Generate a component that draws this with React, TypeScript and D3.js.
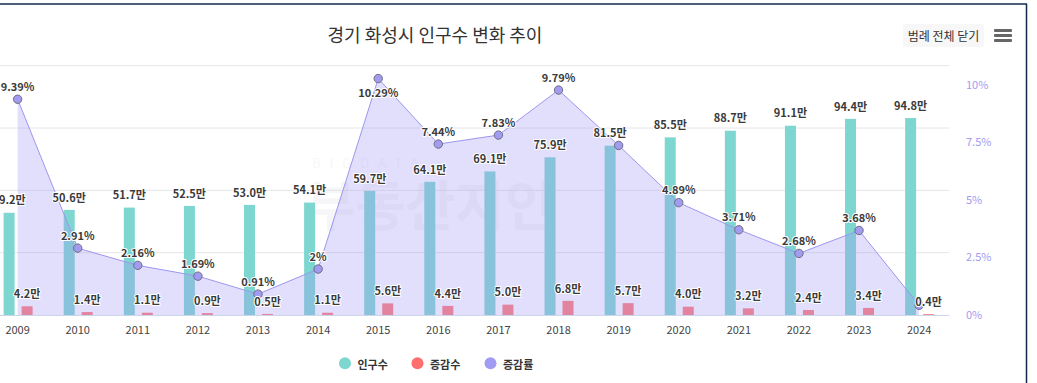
import React from "react";
import * as d3 from "d3";

const years = ["2009","2010","2011","2012","2013","2014","2015","2016","2017","2018","2019","2020","2021","2022","2023","2024"];
const population = [49.2, 50.6, 51.7, 52.5, 53.0, 54.1, 59.7, 64.1, 69.1, 75.9, 81.5, 85.5, 88.7, 91.1, 94.4, 94.8];
const change = [4.2, 1.4, 1.1, 0.9, 0.5, 1.1, 5.6, 4.4, 5.0, 6.8, 5.7, 4.0, 3.2, 2.4, 3.4, 0.4];
const rate = [9.39, 2.91, 2.16, 1.69, 0.91, 2, 10.29, 7.44, 7.83, 9.79, 7.38, 4.89, 3.71, 2.68, 3.68, 0.42];
const rateTicks = [0, 2.5, 5, 7.5, 10];
const popGridTicks = [0, 30, 60, 90, 120];
const seriesNames = ["인구수", "증감수", "증감률"];
const title = "경기 화성시 인구수 변화 추이";
const buttonLabel = "범례 전체 닫기";

const COLORS = { pop: "#7dd6cf", change: "#ff6f6e", rate: "#a29bf2" };
const FONT = "'Noto Sans CJK KR', 'Noto Sans', sans-serif";

function textWidth(s: string): number {
  let w = 0;
  for (const ch of s) {
    if (ch === ".") w += 3;
    else if (ch === "%") w += 9;
    else if (/[0-9]/.test(ch)) w += 6;
    else w += 11;
  }
  return w;
}

type Box = { x0: number; x1: number; y0: number; y1: number };
const overlaps = (a: Box, b: Box) => a.x0 < b.x1 && b.x0 < a.x1 && a.y0 < b.y1 && b.y0 < a.y1;

export default function App() {
  const W = 1037, H = 383;
  const plotTop = 65.7, plotBottom = 315, plotLeft = -12.45, plotRight = 949.2;
  const x = d3.scaleBand<string>().domain(years).range([plotLeft, plotRight]).padding(0);
  const cx = (y: string) => (x(y) as number) + x.bandwidth() / 2;
  const yPop = d3.scaleLinear().domain([0, 120]).range([plotBottom, plotTop]);
  const yRate = d3.scaleLinear().domain([0, 10.85]).range([plotBottom, plotTop]);

  const barW = 11;
  const popX = (y: string) => cx(y) - 14;
  const chgX = (y: string) => cx(y) + 4;

  const area = d3.area<number>()
    .x((_, i) => cx(years[i]))
    .y0(plotBottom)
    .y1((d) => yRate(d));
  const line = d3.line<number>()
    .x((_, i) => cx(years[i]))
    .y((d) => yRate(d));

  const labelOff = 13.3;
  type Lab = { x: number; y: number; text: string };
  const colLabels: Lab[] = [];
  years.forEach((yr, i) => {
    colLabels.push({ x: popX(yr) + barW / 2, y: yPop(population[i]) - labelOff, text: population[i].toFixed(1) + "만" });
    colLabels.push({ x: chgX(yr) + barW / 2, y: yPop(change[i]) - labelOff, text: change[i].toFixed(1) + "만" });
  });
  const boxOf = (l: Lab): Box => {
    const w = textWidth(l.text);
    return { x0: l.x - w / 2, x1: l.x + w / 2, y0: l.y - 7, y1: l.y + 7 };
  };
  const placed = colLabels.map(boxOf);
  const rateLabels: Lab[] = [];
  years.forEach((yr, i) => {
    const py = yRate(rate[i]);
    let ly = py - labelOff;
    if (ly - 7 < plotTop) ly = py + labelOff;
    const l = { x: cx(yr), y: ly, text: String(rate[i]) + "%" };
    const b = boxOf(l);
    if (!placed.some((p) => overlaps(p, b))) {
      rateLabels.push(l);
      placed.push(b);
    }
  });

  const labelStyle: React.CSSProperties = {
    fontFamily: FONT, fontSize: 11, fontWeight: 700, fill: "#3a3a3a",
    stroke: "#ffffff", strokeWidth: 2, strokeLinejoin: "round", paintOrder: "stroke",
  };

  const legendItems = [
    { name: seriesNames[0], color: COLORS.pop, cx: 345, tx: 357.5 },
    { name: seriesNames[1], color: COLORS.change, cx: 417.5, tx: 430 },
    { name: seriesNames[2], color: COLORS.rate, cx: 490.5, tx: 503 },
  ];

  return (
    <div style={{ position: "absolute", left: 0, top: 0, width: W, height: H, background: "#fff" }}>
      <svg width={W} height={H} style={{ display: "block" }}>
        <rect x={0} y={0} width={W} height={H} fill="#ffffff" />
        {/* watermark */}
        <g opacity={0.045} fill="#4a4a78" fontFamily={FONT}>
          <text x={312} y={168} fontSize={13} letterSpacing={9}>BIGDATA</text>
          <text x={306} y={226} fontSize={54} fontWeight={700}>부동산지인</text>
        </g>
        {/* gridlines */}
        {popGridTicks.slice(1).map((t) => (
          <line key={t} x1={0} x2={plotRight} y1={yPop(t)} y2={yPop(t)} stroke="#e6e6e6" strokeWidth={1} />
        ))}
        {/* columns */}
        {years.map((yr, i) => (
          <rect key={"p" + yr} x={popX(yr)} y={yPop(population[i])} width={barW} height={plotBottom - yPop(population[i])} fill={COLORS.pop} />
        ))}
        {years.map((yr, i) => (
          <rect key={"c" + yr} x={chgX(yr)} y={yPop(change[i])} width={barW} height={plotBottom - yPop(change[i])} fill={COLORS.change} opacity={0.92} />
        ))}
        {/* area */}
        <path d={area(rate) || ""} fill="#a097f5" fillOpacity={0.31} />
        <path d={line(rate) || ""} fill="none" stroke="#9d96f0" strokeWidth={1} />
        {/* x axis line */}
        <line x1={0} x2={plotRight} y1={plotBottom + 0.5} y2={plotBottom + 0.5} stroke="#ccd6eb" strokeWidth={1} />
        {/* markers */}
        {years.map((yr, i) => (
          <circle key={"m" + yr} cx={cx(yr)} cy={yRate(rate[i])} r={4.2} fill={COLORS.rate} stroke="#6e6e7e" strokeWidth={1} />
        ))}
        {/* data labels */}
        {colLabels.map((l, i) => (
          <text key={"cl" + i} x={l.x} y={l.y} textAnchor="middle" dominantBaseline="central" style={labelStyle}>{l.text}</text>
        ))}
        {rateLabels.map((l, i) => (
          <text key={"rl" + i} x={l.x} y={l.y} textAnchor="middle" dominantBaseline="central" style={labelStyle}>{l.text}</text>
        ))}
        {/* x axis labels */}
        {years.map((yr) => (
          <text key={"x" + yr} x={cx(yr)} y={329} textAnchor="middle" dominantBaseline="central" fontFamily={FONT} fontSize={11} fill="#444">{yr}</text>
        ))}
        {/* right axis labels */}
        {rateTicks.map((t) => (
          <text key={"r" + t} x={966} y={yRate(t) - 1.5} dominantBaseline="central" fontFamily={FONT} fontSize={11} fill={COLORS.rate}>{t + "%"}</text>
        ))}
        {/* legend */}
        {legendItems.map((it) => (
          <g key={it.name}>
            <circle cx={it.cx} cy={363.3} r={6} fill={it.color} />
            <text x={it.tx} y={363.5} dominantBaseline="central" fontFamily={FONT} fontSize={11} fontWeight={700} fill="#333">{it.name}</text>
          </g>
        ))}
        {/* title */}
        <text x={435} y={33.5} textAnchor="middle" dominantBaseline="central" fontFamily={FONT} fontSize={18} fill="#333">{title}</text>
        {/* button */}
        <rect x={903} y={24} width={81} height={23} rx={2} fill="#f7f7f7" />
        <text x={943.5} y={35.5} textAnchor="middle" dominantBaseline="central" fontFamily={FONT} fontSize={12} fill="#333">{buttonLabel}</text>
        {/* hamburger */}
        {[30.5, 35.5, 40.5].map((yy) => (
          <rect key={yy} x={994} y={yy - 1.5} width={18} height={3} rx={1} fill="#666" />
        ))}
        {/* container border */}
        <line x1={0} x2={1027} y1={4} y2={4} stroke="#13294b" strokeWidth={1.5} />
        <line x1={1026.5} x2={1026.5} y1={4} y2={H} stroke="#13294b" strokeWidth={1.5} />
      </svg>
    </div>
  );
}
